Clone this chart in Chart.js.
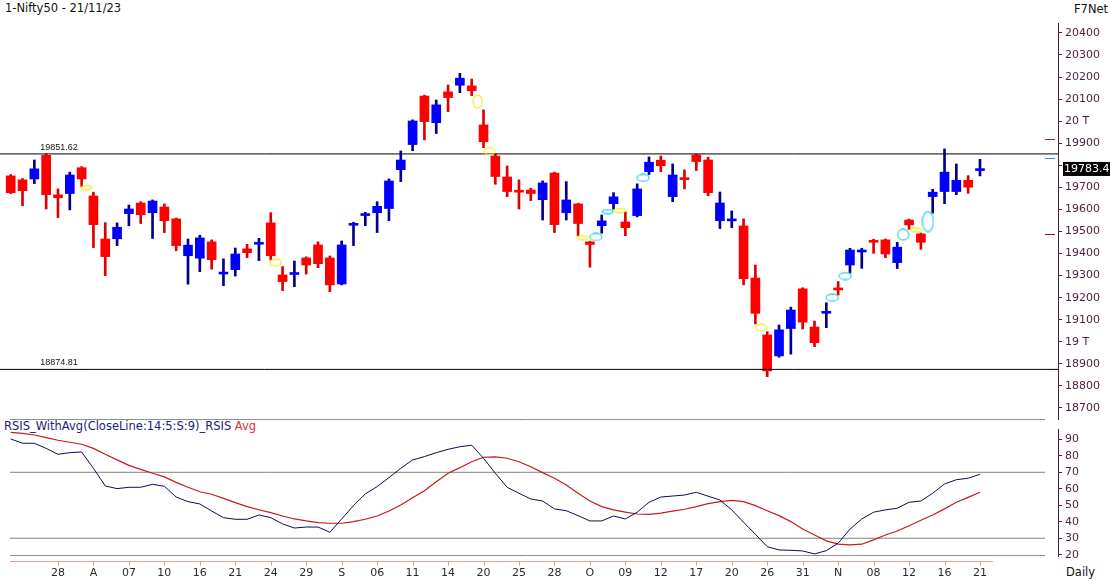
<!DOCTYPE html>
<html>
<head>
<meta charset="utf-8">
<script src="https://cdn.jsdelivr.net/npm/chart.js@4.4.0/dist/chart.umd.min.js"></script>
<style>
    body { margin: 0; background: #fff; width: 1110px; height: 581px; overflow: hidden; position: relative; font-family: "DejaVu Sans", Verdana, sans-serif; }
    canvas { position: absolute; left: 0; }
    #priceChart { top: 0; }
    #rsiChart { top: 420px; }
    .lbl { position: absolute; font-size: 11.5px; line-height: 14px; white-space: nowrap; color: #111; }
</style>
</head>
<body>
<div class="lbl" style="left:5px;top:1px">1-Nifty50 - 21/11/23</div>
<div class="lbl" style="left:1074px;top:2px">F7Net</div>
<div class="lbl" style="left:4px;top:419px;color:#1c1c78">RSIS_WithAvg(CloseLine:14:5:S:9)_RSIS <span style="color:#e03030">Avg</span></div>
<div class="lbl" style="left:1066px;top:565px">Daily</div>
<canvas id="priceChart" width="1110" height="420"></canvas>
<canvas id="rsiChart" width="1110" height="161"></canvas>
<script>
// Nifty50 daily candles, 24 Jul 2023 .. 21 Nov 2023 (one entry per trading day)
const opens = [19752, 19734, 19738, 19845, 19666, 19672, 19789, 19661, 19466, 19467,
    19581, 19629, 19585, 19611, 19557, 19390, 19379, 19453, 19307, 19327,
    19421, 19442, 19539, 19303, 19305, 19380, 19439, 19380, 19262, 19528,
    19572, 19585, 19604, 19780, 19894, 20114, 19993, 20133, 20163, 20160,
    19983, 19842, 19747, 19684, 19688, 19644, 19765, 19585, 19625, 19453,
    19526, 19626, 19543, 19572, 19771, 19823, 19658, 19742, 19847, 19824,
    19549, 19548, 19525, 19289, 19031, 18936, 19060, 19240, 19067, 19129,
    19243, 19348, 19407, 19459, 19462, 19359, 19552, 19489, 19658, 19681,
    19681, 19732, 19776];
const highs = [19758, 19740, 19824, 19851.6, 19693, 19769, 19794, 19678, 19540, 19539,
    19620, 19635, 19643, 19625, 19561, 19466, 19483, 19462, 19376, 19425,
    19442, 19469, 19585, 19341, 19366, 19385, 19453, 19389, 19457, 19542,
    19587, 19635, 19738, 19865, 20006, 20118, 20096, 20164, 20217, 20191,
    20051, 19852, 19797, 19734, 19696, 19729, 19769, 19726, 19628, 19456,
    19575, 19676, 19589, 19716, 19838, 19842, 19806, 19779, 19850, 19837,
    19679, 19593, 19557, 19348, 19046, 19076, 19157, 19245, 19094, 19177,
    19273, 19424, 19424, 19465, 19466, 19451, 19556, 19493, 19691, 19874,
    19806, 19753, 19827];
const lows = [19672, 19617, 19717, 19602, 19563, 19598, 19703, 19427, 19300, 19436,
    19526, 19536, 19468, 19495, 19413, 19261, 19318, 19329, 19254, 19298,
    19381, 19368, 19371, 19232, 19250, 19307, 19336, 19227, 19258, 19436,
    19526, 19495, 19549, 19726, 19866, 19915, 19944, 20043, 20129, 20116,
    19880, 19714, 19658, 19602, 19640, 19552, 19495, 19552, 19480, 19338,
    19492, 19601, 19481, 19566, 19758, 19771, 19635, 19693, 19776, 19662,
    19513, 19517, 19258, 19081, 18842, 18930, 18944, 19058, 18978, 19064,
    19212, 19311, 19333, 19401, 19381, 19332, 19510, 19419, 19583, 19626,
    19667, 19673, 19752];
const closes = [19676, 19685, 19784, 19667, 19653, 19756, 19738, 19531, 19386, 19519,
    19602, 19576, 19638, 19549, 19436, 19438, 19471, 19372, 19315, 19398,
    19404, 19448, 19390, 19273, 19312, 19348, 19354, 19258, 19439, 19534,
    19580, 19614, 19729, 19824, 20001, 19998, 20074, 20107, 20195, 20138,
    19907, 19749, 19681, 19678, 19672, 19720, 19531, 19643, 19536, 19441,
    19548, 19657, 19517, 19693, 19814, 19798, 19756, 19735, 19817, 19676,
    19629, 19552, 19286, 19129, 18868, 19054, 19144, 19089, 18996, 19138,
    19235, 19416, 19413, 19451, 19398, 19429, 19530, 19451, 19678, 19769,
    19732, 19701, 19783.4];

// RSI and its average, same days
const rsi = [90.2, 87.6, 87.6, 84.5, 80.9, 81.9, 82.3, 72.4, 61.7, 60.1,
    60.9, 60.9, 62.7, 61.5, 55.0, 52.2, 50.8, 46.5, 42.5, 41.5,
    41.5, 44.1, 42.5, 38.7, 36.2, 36.8, 36.8, 33.6, 41.7, 49.8,
    56.9, 61.3, 66.8, 72.4, 77.5, 79.5, 81.9, 83.9, 85.5, 86.4,
    78.5, 69.4, 60.9, 57.3, 53.8, 52.6, 47.8, 46.7, 43.7, 40.5,
    40.5, 43.5, 41.7, 45.8, 51.8, 55.0, 55.6, 56.2, 57.9, 55.5,
    53.2, 47.2, 39.7, 32.4, 24.9, 22.9, 22.7, 22.3, 20.5, 22.5,
    27.0, 35.5, 41.7, 45.8, 47.2, 48.2, 51.8, 52.6, 57.3, 62.9,
    65.5, 66.4, 68.8];
const rsiAvg = [94.2, 93.6, 92.6, 91.0, 89.4, 88.2, 87.0, 84.5, 80.9, 77.5,
    74.2, 71.8, 69.4, 67.2, 63.9, 60.9, 58.2, 56.7, 54.2, 51.6,
    49.2, 47.3, 45.5, 43.5, 41.7, 40.5, 39.5, 39.1, 39.1, 40.1,
    41.5, 43.5, 46.5, 50.2, 54.6, 58.8, 64.3, 69.4, 72.8, 76.4,
    79.1, 79.3, 78.5, 76.4, 73.4, 69.8, 66.4, 62.3, 57.3, 52.6,
    49.2, 47.2, 45.8, 44.7, 44.5, 45.2, 46.4, 47.6, 49.2, 51.0,
    52.2, 53.0, 52.2, 49.8, 46.7, 43.7, 40.1, 35.6, 32.0, 28.4,
    26.4, 26.0, 26.4, 29.0, 32.0, 34.4, 37.6, 40.9, 44.1, 47.8,
    51.8, 54.8, 57.9];

// date ticks: every third trading day starting at 28 Jul
const tickLabels = ["28", "A", "07", "10", "16", "21", "24", "29", "S", "06", "11", "14", "20", "25",
    "28", "O", "09", "12", "17", "20", "26", "31", "N", "08", "12", "16", "21"];
const firstTick = 4;
const tickStep = 3;
const priceTicks = [18700, 18800, 18900, 19000, 19100, 19200, 19300, 19400, 19500,
    19600, 19700, 19800, 19900, 20000, 20100, 20200, 20300, 20400];
const rsiTicks = [20, 30, 40, 50, 60, 70, 80, 90];
const rsiBands = [70, 30];

// horizontal levels and right-edge markers
const levels = [19851.62, 18874.81];
const lastPrice = 19783.4;
const axisMarks = [19918, 19832, 19487];

// pattern ovals (bar position, price, kind)
const ovalX = [6.4, 22.4, 39.5, 40.5, 48.4, 49.5, 50.5, 51.5, 53.5, 63.5, 69.5, 70.6, 75.5, 76.6, 77.6];
const ovalY = [19699, 19359, 20089, 19864, 19472, 19475, 19590, 19595, 19743, 19064, 19200, 19298, 19486, 19507, 19545];
const ovalKind = ["yf", "yh", "yv", "yh", "yf", "ch", "cf", "yf", "ch", "yh", "ch", "ch", "cr", "yf", "ct"];

const X_MIN = -0.905;
const X_MAX = 88.6;
const FONT = "DejaVu Sans";
const AXIS = "#4a1e3c";
const UP_BODY = "#0000ff", DOWN_BODY = "#ff0000";
const UP_WICK = "#00008c", DOWN_WICK = "#dd0000";

const ovalStyles = {
    yf: { w: 11, h: 4, c: "#f2f030" },
    yh: { w: 11, h: 7, c: "#f2f030" },
    yv: { w: 9, h: 13, c: "#f2f030" },
    ch: { w: 12, h: 7, c: "#40d4e8" },
    cf: { w: 11, h: 4, c: "#40d4e8" },
    cr: { w: 11, h: 11, c: "#40d4e8" },
    ct: { w: 11, h: 20, c: "#40d4e8" }
};

function ovalImage(kind) {
    const s = ovalStyles[kind];
    const c = document.createElement("canvas");
    c.width = s.w + 2;
    c.height = s.h + 2;
    const g = c.getContext("2d");
    g.strokeStyle = s.c;
    g.lineWidth = 1.3;
    g.beginPath();
    g.ellipse(c.width / 2, c.height / 2, s.w / 2, s.h / 2, 0, 0, Math.PI * 2);
    g.stroke();
    return c;
}

const idx = closes.map((_, i) => i);
const isUp = idx.map(i => closes[i] >= opens[i]);

// text labels, price tag and small axis markers
const priceExtras = {
    id: "priceExtras",
    afterDraw(chart) {
        const { ctx, chartArea, scales } = chart;
        const xs = scales.x, ys = scales.y;
        ctx.save();
        ctx.font = "9px 'Liberation Sans'";
        ctx.fillStyle = "#111";
        ctx.textBaseline = "alphabetic";
        levels.forEach(v => {
            ctx.fillText(v.toFixed(2), xs.getPixelForValue(2.5), ys.getPixelForValue(v) - 4);
        });
        // separator between panels
        ctx.strokeStyle = "#909090";
        ctx.lineWidth = 1;
        ctx.beginPath();
        ctx.moveTo(xs.getPixelForValue(-0.06), 419.5);
        ctx.lineTo(xs.getPixelForValue(87.5), 419.5);
        ctx.stroke();
        // markers next to the axis
        const markColors = ["#7a2a6a", "#3a90d0", "#8b1010"];
        axisMarks.forEach((v, k) => {
            const y = Math.round(ys.getPixelForValue(v)) + 0.5;
            ctx.strokeStyle = markColors[k];
            ctx.beginPath();
            ctx.moveTo(chartArea.right - 13, y);
            ctx.lineTo(chartArea.right - 3, y);
            ctx.stroke();
        });
        // last price tag
        const py = ys.getPixelForValue(lastPrice);
        ctx.fillStyle = "#000";
        ctx.fillRect(chartArea.right + 5, py - 7, 60, 14);
        ctx.fillStyle = "#fff";
        ctx.font = "11px '" + FONT + "'";
        ctx.textBaseline = "middle";
        ctx.fillText(String(lastPrice), chartArea.right + 6, py + 0.5);
        ctx.restore();
    }
};

new Chart(document.getElementById("priceChart"), {
    type: "bar",
    data: {
        datasets: [
            {
                type: "line",
                data: ovalX.map((x, k) => ({ x: x, y: ovalY[k] })),
                showLine: false,
                pointStyle: ovalKind.map(ovalImage),
                pointRadius: 5,
                order: 0
            },
            ...levels.map(v => ({
                type: "line",
                data: [{ x: X_MIN, y: v }, { x: X_MAX, y: v }],
                borderColor: "#000",
                borderWidth: 1,
                pointRadius: 0,
                order: 1
            })),
            {
                data: idx.map(i => ({ x: i, y: [opens[i], closes[i]] })),
                backgroundColor: idx.map(i => isUp[i] ? UP_BODY : DOWN_BODY),
                barThickness: 9,
                minBarLength: 2,
                grouped: false,
                order: 2
            },
            {
                data: idx.map(i => ({ x: i, y: [lows[i], highs[i]] })),
                backgroundColor: idx.map(i => isUp[i] ? UP_WICK : DOWN_WICK),
                barThickness: 2,
                grouped: false,
                order: 3
            }
        ]
    },
    options: {
        responsive: false,
        animation: false,
        layout: { autoPadding: false, padding: { top: 23, bottom: 1, left: 0, right: 0 } },
        plugins: { legend: { display: false }, tooltip: { enabled: false } },
        scales: {
            x: { type: "linear", min: X_MIN, max: X_MAX, offset: false, display: false },
            y: {
                position: "right",
                min: 18650,
                max: 20445,
                afterBuildTicks: s => { s.ticks = priceTicks.map(v => ({ value: v })); },
                afterFit: s => { s.width = 52; s.paddingTop = 0; s.paddingBottom = 0; },
                grid: { drawOnChartArea: false, drawTicks: true, tickLength: 4, color: AXIS },
                border: { color: AXIS, width: 1 },
                ticks: {
                    color: AXIS,
                    padding: 3,
                    font: { family: FONT, size: 11 },
                    // the last-price tag takes the place of the nearest label
                    callback: v => Math.abs(v - lastPrice) < 50 ? "" :
                        (v % 1000 === 0 ? (v / 1000) + " T" : String(v))
                }
            }
        }
    },
    plugins: [priceExtras]
});

// RSI panel frame: bottom line and the date axis baseline
const rsiExtras = {
    id: "rsiExtras",
    afterDraw(chart) {
        const { ctx, chartArea, scales } = chart;
        const xs = scales.x;
        ctx.save();
        ctx.lineWidth = 1;
        ctx.strokeStyle = "#909090";
        ctx.beginPath();
        const yb = Math.round(chartArea.bottom) - 0.5;
        ctx.moveTo(xs.getPixelForValue(-0.06), yb);
        ctx.lineTo(xs.getPixelForValue(87.5), yb);
        ctx.stroke();
        const ya = Math.round(chartArea.bottom) + 5.5;
        ctx.strokeStyle = "#e89a9a";
        ctx.beginPath();
        ctx.moveTo(xs.getPixelForValue(-0.06), ya);
        ctx.lineTo(xs.getPixelForValue(83.1), ya);
        tickLabels.forEach((_, k) => {
            const x = Math.round(xs.getPixelForValue(firstTick + k * tickStep)) + 0.5;
            ctx.moveTo(x, ya);
            ctx.lineTo(x, ya + 4);
        });
        ctx.stroke();
        ctx.restore();
    }
};

new Chart(document.getElementById("rsiChart"), {
    type: "line",
    data: {
        datasets: [
            {
                data: idx.map(i => ({ x: i, y: rsi[i] })),
                borderColor: "#0c0c50",
                borderWidth: 1,
                pointRadius: 0,
                tension: 0
            },
            {
                data: idx.map(i => ({ x: i, y: rsiAvg[i] })),
                borderColor: "#c41c1c",
                borderWidth: 1.2,
                pointRadius: 0,
                tension: 0
            },
            ...rsiBands.map(v => ({
                data: [{ x: -0.06, y: v }, { x: 87.5, y: v }],
                borderColor: "#808080",
                borderWidth: 1,
                pointRadius: 0
            }))
        ]
    },
    options: {
        responsive: false,
        animation: false,
        layout: { autoPadding: false, padding: { top: 9.4, bottom: 0, left: 0, right: 0 } },
        plugins: { legend: { display: false }, tooltip: { enabled: false } },
        scales: {
            x: {
                type: "linear",
                min: X_MIN,
                max: X_MAX,
                offset: false,
                afterBuildTicks: s => { s.ticks = tickLabels.map((_, k) => ({ value: firstTick + k * tickStep })); },
                afterFit: s => { s.height = 24.6; s.paddingLeft = 0; s.paddingRight = 0; },
                grid: { display: false, drawTicks: false },
                border: { display: false },
                ticks: {
                    autoSkip: false,
                    maxRotation: 0,
                    padding: 10,
                    color: "#2a2a2a",
                    font: { family: FONT, size: 11 },
                    callback: v => tickLabels[(v - firstTick) / tickStep] ?? ""
                }
            },
            y: {
                position: "right",
                min: 19,
                max: 96,
                afterBuildTicks: s => { s.ticks = rsiTicks.map(v => ({ value: v })); },
                afterFit: s => { s.width = 52; s.paddingTop = 0; s.paddingBottom = 0; },
                grid: { drawOnChartArea: false, drawTicks: true, tickLength: 4, color: AXIS },
                border: { color: AXIS, width: 1 },
                ticks: { color: AXIS, padding: 3, font: { family: FONT, size: 11 } }
            }
        }
    },
    plugins: [rsiExtras]
});
</script>
</body>
</html>
